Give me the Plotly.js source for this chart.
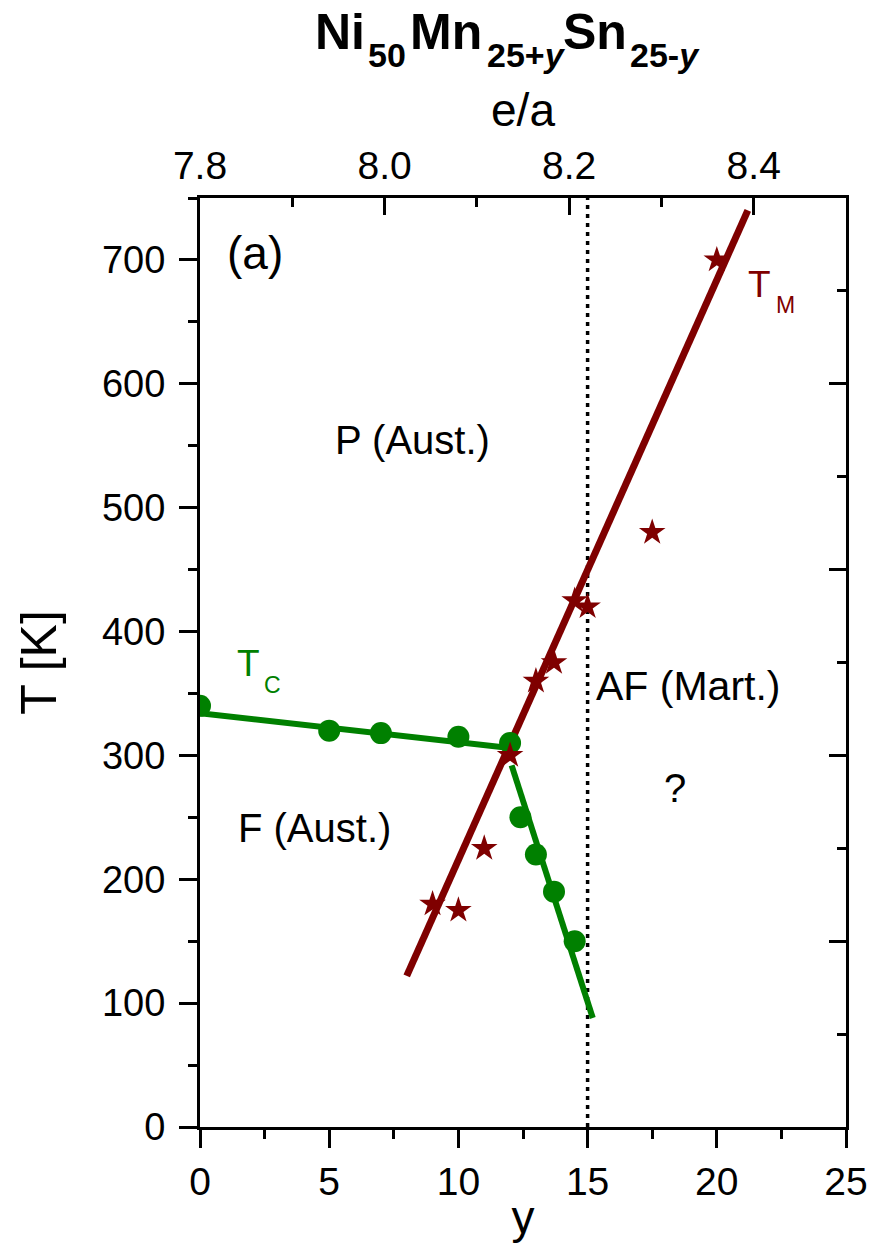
<!DOCTYPE html>
<html>
<head>
<meta charset="utf-8">
<script src="https://cdn.plot.ly/plotly-3.0.1.min.js"></script>
<style>html,body{margin:0;padding:0;background:#fff;}#chart{width:875px;height:1243px;}</style>
</head>
<body>
<div id="chart"></div>
<script>
// ---- data ----
const tcY = [0, 5, 7, 10, 12, 12.4, 13, 13.7, 14.5];
const tcT = [340, 320, 318, 315, 310, 250, 220, 190, 150];
const tmY = [9, 10, 11, 12, 13, 13.7, 14.5, 15, 17.5, 20];
const tmT = [180, 175, 225, 300, 360, 375, 425, 420, 480, 700];
// fitted guide lines
const tmFitY = [8, 21.2];
const tmFitT = [122, 740];
const tcFit1Y = [0, 12];
const tcFit1T = [334, 306];
const tcFit2Y = [12.06, 15.2];
const tcFit2T = [292, 88];
// phase boundary (dotted)
const boundaryY = [15, 15];
const boundaryT = [0, 750];
// axis tick values
const xTicks = [0, 5, 10, 15, 20, 25];
const yTicks = [0, 100, 200, 300, 400, 500, 600, 700];
const eaTicks = [7.8, 8.0, 8.2, 8.4];
const eaLabels = ['7.8', '8.0', '8.2', '8.4'];
// title pieces: formula Ni50Mn25+ySn25-y (element symbols and subscripts)
const titleElements = ['Ni', 'Mn', 'Sn'];
const titleSubscripts = ['50', '25+<i>y</i>', '25-<i>y</i>'];

const FONT = 'Arial, "Liberation Sans", sans-serif';
const RED = '#7f0000';
const GREEN = '#008000';

const traces = [
  {x: boundaryY, y: boundaryT, mode: 'lines', line: {color: '#000', width: 3.5, dash: '4px,5px'}, hoverinfo: 'skip'},
  {x: tmFitY, y: tmFitT, mode: 'lines', line: {color: RED, width: 7}, hoverinfo: 'skip'},
  {x: tcFit1Y, y: tcFit1T, mode: 'lines', line: {color: GREEN, width: 6}, hoverinfo: 'skip'},
  {x: tcFit2Y, y: tcFit2T, mode: 'lines', line: {color: GREEN, width: 6}, hoverinfo: 'skip'},
  {x: tcY, y: tcT, mode: 'markers', marker: {symbol: 'circle', size: 22, color: GREEN}, name: 'T_C'},
  {x: tmY, y: tmT, mode: 'markers', marker: {symbol: 'star', size: 20, color: RED}, name: 'T_M'},
  {x: [], y: [], xaxis: 'x2', yaxis: 'y2', mode: 'markers', hoverinfo: 'skip', showlegend: false}
];

// title built from pieces (element at normal baseline, subscript lowered)
const elemX = [0.1749, 0.3220, 0.5588];
const subX = [0.2570, 0.4412, 0.6625];
const titleAnn = [];
for (let i = 0; i < titleElements.length; i++) {
  titleAnn.push({xref: 'paper', yref: 'paper', x: elemX[i], y: 1.1790, xanchor: 'left', yanchor: 'middle',
    text: titleElements[i], showarrow: false, font: {family: FONT, size: 50, color: '#000', weight: 700}});
  titleAnn.push({xref: 'paper', yref: 'paper', x: subX[i], y: 1.1537, xanchor: 'left', yanchor: 'middle',
    text: titleSubscripts[i], showarrow: false, font: {family: FONT, size: 34, color: '#000', weight: 700}});
}

const layout = {
  width: 875, height: 1243,
  margin: {l: 200, r: 29, t: 198, b: 116},
  paper_bgcolor: '#fff', plot_bgcolor: '#fff',
  showlegend: false,
  font: {family: FONT, color: '#000'},
  xaxis: {
    range: [0, 25], tickvals: xTicks, ticks: 'outside', ticklen: 18, tickwidth: 3, tickcolor: '#000',
    minor: {dtick: 2.5, tick0: 0, ticks: 'outside', ticklen: 9, tickwidth: 3, tickcolor: '#000', showgrid: false},
    showline: true, linewidth: 3, linecolor: '#000', showgrid: false, zeroline: false,
    tickfont: {family: FONT, size: 39, color: '#000'},
    title: {text: 'y', font: {family: FONT, size: 46, color: '#000'}, standoff: 2}
  },
  yaxis: {
    range: [0, 750], tickvals: yTicks, ticks: 'outside', ticklen: 18, tickwidth: 3, tickcolor: '#000',
    minor: {dtick: 50, tick0: 0, ticks: 'outside', ticklen: 9, tickwidth: 3, tickcolor: '#000', showgrid: false},
    showline: true, linewidth: 3, linecolor: '#000', showgrid: false, zeroline: false,
    ticklabelstandoff: 6,
    tickfont: {family: FONT, size: 38, color: '#000'},
    title: {text: 'T [K]', font: {family: FONT, size: 50, color: '#000'}, standoff: 30}
  },
  xaxis2: {
    overlaying: 'x', side: 'top', anchor: 'y', range: [7.8, 8.5],
    tickvals: eaTicks, ticktext: eaLabels, ticks: 'inside', ticklen: 17, tickwidth: 3, tickcolor: '#000',
    minor: {dtick: 0.1, tick0: 7.8, ticks: 'inside', ticklen: 9, tickwidth: 3, tickcolor: '#000', showgrid: false},
    showline: true, linewidth: 3, linecolor: '#000', showgrid: false, zeroline: false,
    tickfont: {family: FONT, size: 39, color: '#000'},
    title: {text: 'e/a', font: {family: FONT, size: 46, color: '#000'}, standoff: 4}
  },
  yaxis2: {
    overlaying: 'y', side: 'right', anchor: 'x', range: [0, 10],
    dtick: 2, tick0: 0, ticks: 'inside', ticklen: 17, tickwidth: 3, tickcolor: '#000',
    minor: {dtick: 1, tick0: 0, ticks: 'inside', ticklen: 9, tickwidth: 3, tickcolor: '#000', showgrid: false},
    showline: true, linewidth: 3, linecolor: '#000', showgrid: false, zeroline: false,
    showticklabels: false
  },
  annotations: titleAnn.concat([
    {x: 2.13, y: 706, xref: 'x', yref: 'y', text: '(a)', showarrow: false, font: {family: FONT, size: 46, color: '#000'}},
    {x: 8.24, y: 555, xref: 'x', yref: 'y', text: 'P (Aust.)', showarrow: false, font: {family: FONT, size: 40, color: '#000'}},
    {x: 4.45, y: 241, xref: 'x', yref: 'y', text: 'F (Aust.)', showarrow: false, font: {family: FONT, size: 40, color: '#000'}},
    {x: 18.9, y: 356, xref: 'x', yref: 'y', text: 'AF (Mart.)', showarrow: false, font: {family: FONT, size: 41, color: '#000'}},
    {x: 18.4, y: 274, xref: 'x', yref: 'y', text: '?', showarrow: false, font: {family: FONT, size: 40, color: '#000'}},
    {x: 21.65, y: 680, xref: 'x', yref: 'y', text: 'T', showarrow: false, font: {family: FONT, size: 37, color: RED}},
    {x: 22.64, y: 664, xref: 'x', yref: 'y', text: 'M', showarrow: false, font: {family: FONT, size: 23, color: RED}},
    {x: 1.88, y: 374, xref: 'x', yref: 'y', text: 'T', showarrow: false, font: {family: FONT, size: 37, color: GREEN}},
    {x: 2.81, y: 357, xref: 'x', yref: 'y', text: 'C', showarrow: false, font: {family: FONT, size: 23, color: GREEN}}
  ])
};

Plotly.newPlot('chart', traces, layout, {displayModeBar: false, staticPlot: true});
</script>
</body>
</html>
